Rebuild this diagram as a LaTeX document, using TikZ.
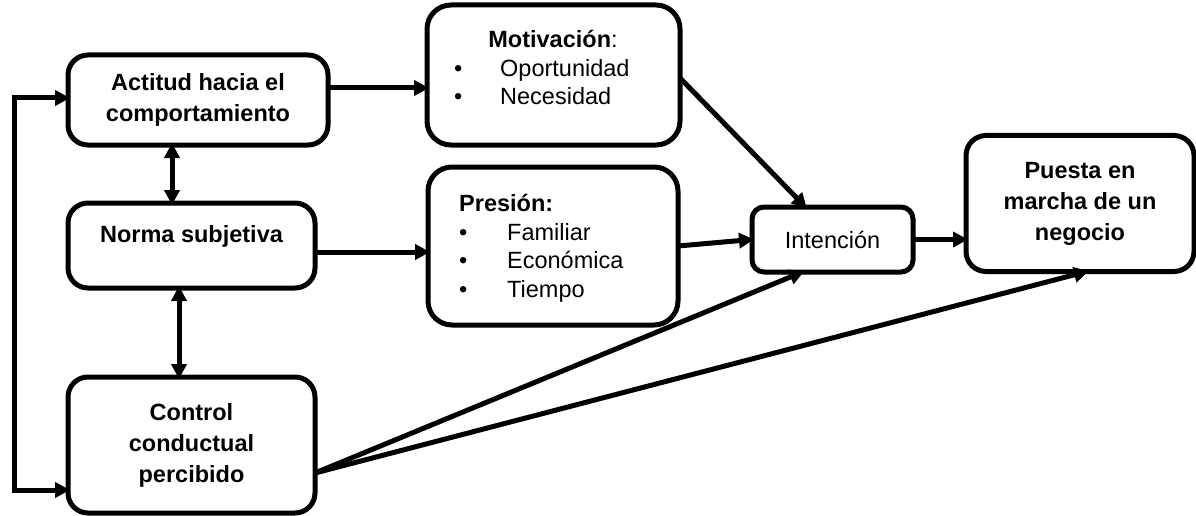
\documentclass[tikz,border=0pt]{standalone}
\usepackage{fontspec}
\setmainfont{Liberation Sans}
\usepackage{tikz}
\usetikzlibrary{arrows.meta}

\begin{document}
\fontsize{23.5}{31}\selectfont
\begin{tikzpicture}[x=1pt,y=-1pt,
  box/.style={draw,line width=5pt,rounded corners=20pt,inner sep=0pt,outer sep=0pt,align=center},
  txt/.style={inner sep=0pt},
  arr/.style={line width=5pt,shorten >=-2pt,-{Triangle[length=15pt,width=15pt]}},
  dbl/.style={line width=5pt,shorten >=-2pt,shorten <=-2pt,{Triangle[length=15pt,width=15pt]}-{Triangle[length=15pt,width=15pt]}}]
  \useasboundingbox (0,0) rectangle (1196,516);
  % cajas
  \node[box,font=\bfseries,minimum width=260pt,minimum height=90pt] (actitud) at (198,100) {Actitud hacia el\\comportamiento};
  \node[box,minimum width=247pt,minimum height=85pt] (norma) at (191.5,245.5) {};
  \node[txt,font=\bfseries,anchor=base] (normatxt) at (191.5,242) {Norma subjetiva};
  \node[box,font=\bfseries,minimum width=247pt,minimum height=136pt] (control) at (191.5,445) {Control\\conductual\\percibido};
  \node[box,rounded corners=24pt,minimum width=253pt,minimum height=140pt] (motiv) at (553.5,75) {};
  \node[txt,anchor=base] (motivtxt) at (553,48) {\textbf{Motivación}:};
  \foreach \t [count=\i] in {Oportunidad,Necesidad}
    \node[txt,anchor=base west] (motiv\i) at (454,{77+28*(\i-1)}) {\makebox[46pt][l]{\textbullet}\t};
  \node[box,rounded corners=24pt,minimum width=250pt,minimum height=158pt] (presion) at (553,246) {};
  \node[txt,font=\bfseries,anchor=base west] (presiontxt) at (459,211) {Presión:};
  \foreach \t [count=\i] in {Familiar,Económica,Tiempo}
    \node[txt,anchor=base west] (presion\i) at (459,{240+28.5*(\i-1)}) {\makebox[48pt][l]{\textbullet}\t};
  \node[box,rounded corners=12pt,minimum width=161pt,minimum height=65pt] (intencion) at (832.5,239.5) {Intención};
  \node[box,font=\bfseries,minimum width=228pt,minimum height=136pt] (puesta) at (1080,203.5) {Puesta en\\marcha de un\\negocio};
  % flechas
  \coordinate (fbtop) at (14,98);
  \coordinate (fbbot) at (14,490);
  \draw[dbl] (fbtop -| actitud.west) -- (fbtop) -- (fbbot) -- (fbbot -| control.west);
  \draw[dbl] (norma.north -| 172,0) -- (actitud.south -| 172,0);
  \draw[dbl] (norma.south -| 179,0) -- (control.north -| 179,0);
  \draw[arr] ([yshift=12pt]actitud.east) -- ([yshift=12pt]actitud.east -| motiv.west);
  \draw[arr] ([yshift=-6.5pt]norma.east) -- ([yshift=-6.5pt]norma.east -| presion.west);
  \draw[arr] ([yshift=-3pt]motiv.east) -- ([xshift=-27pt]intencion.north);
  \draw[arr] (presion.east) -- (intencion.west);
  \draw[arr] (intencion.east) -- (intencion.east -| puesta.west);
  \draw[arr] ([yshift=-28pt]control.east) -- ([xshift=-30pt]intencion.south);
  \draw[arr] ([yshift=-28pt]control.east) -- ([xshift=7pt]puesta.south);
\end{tikzpicture}
\end{document}
